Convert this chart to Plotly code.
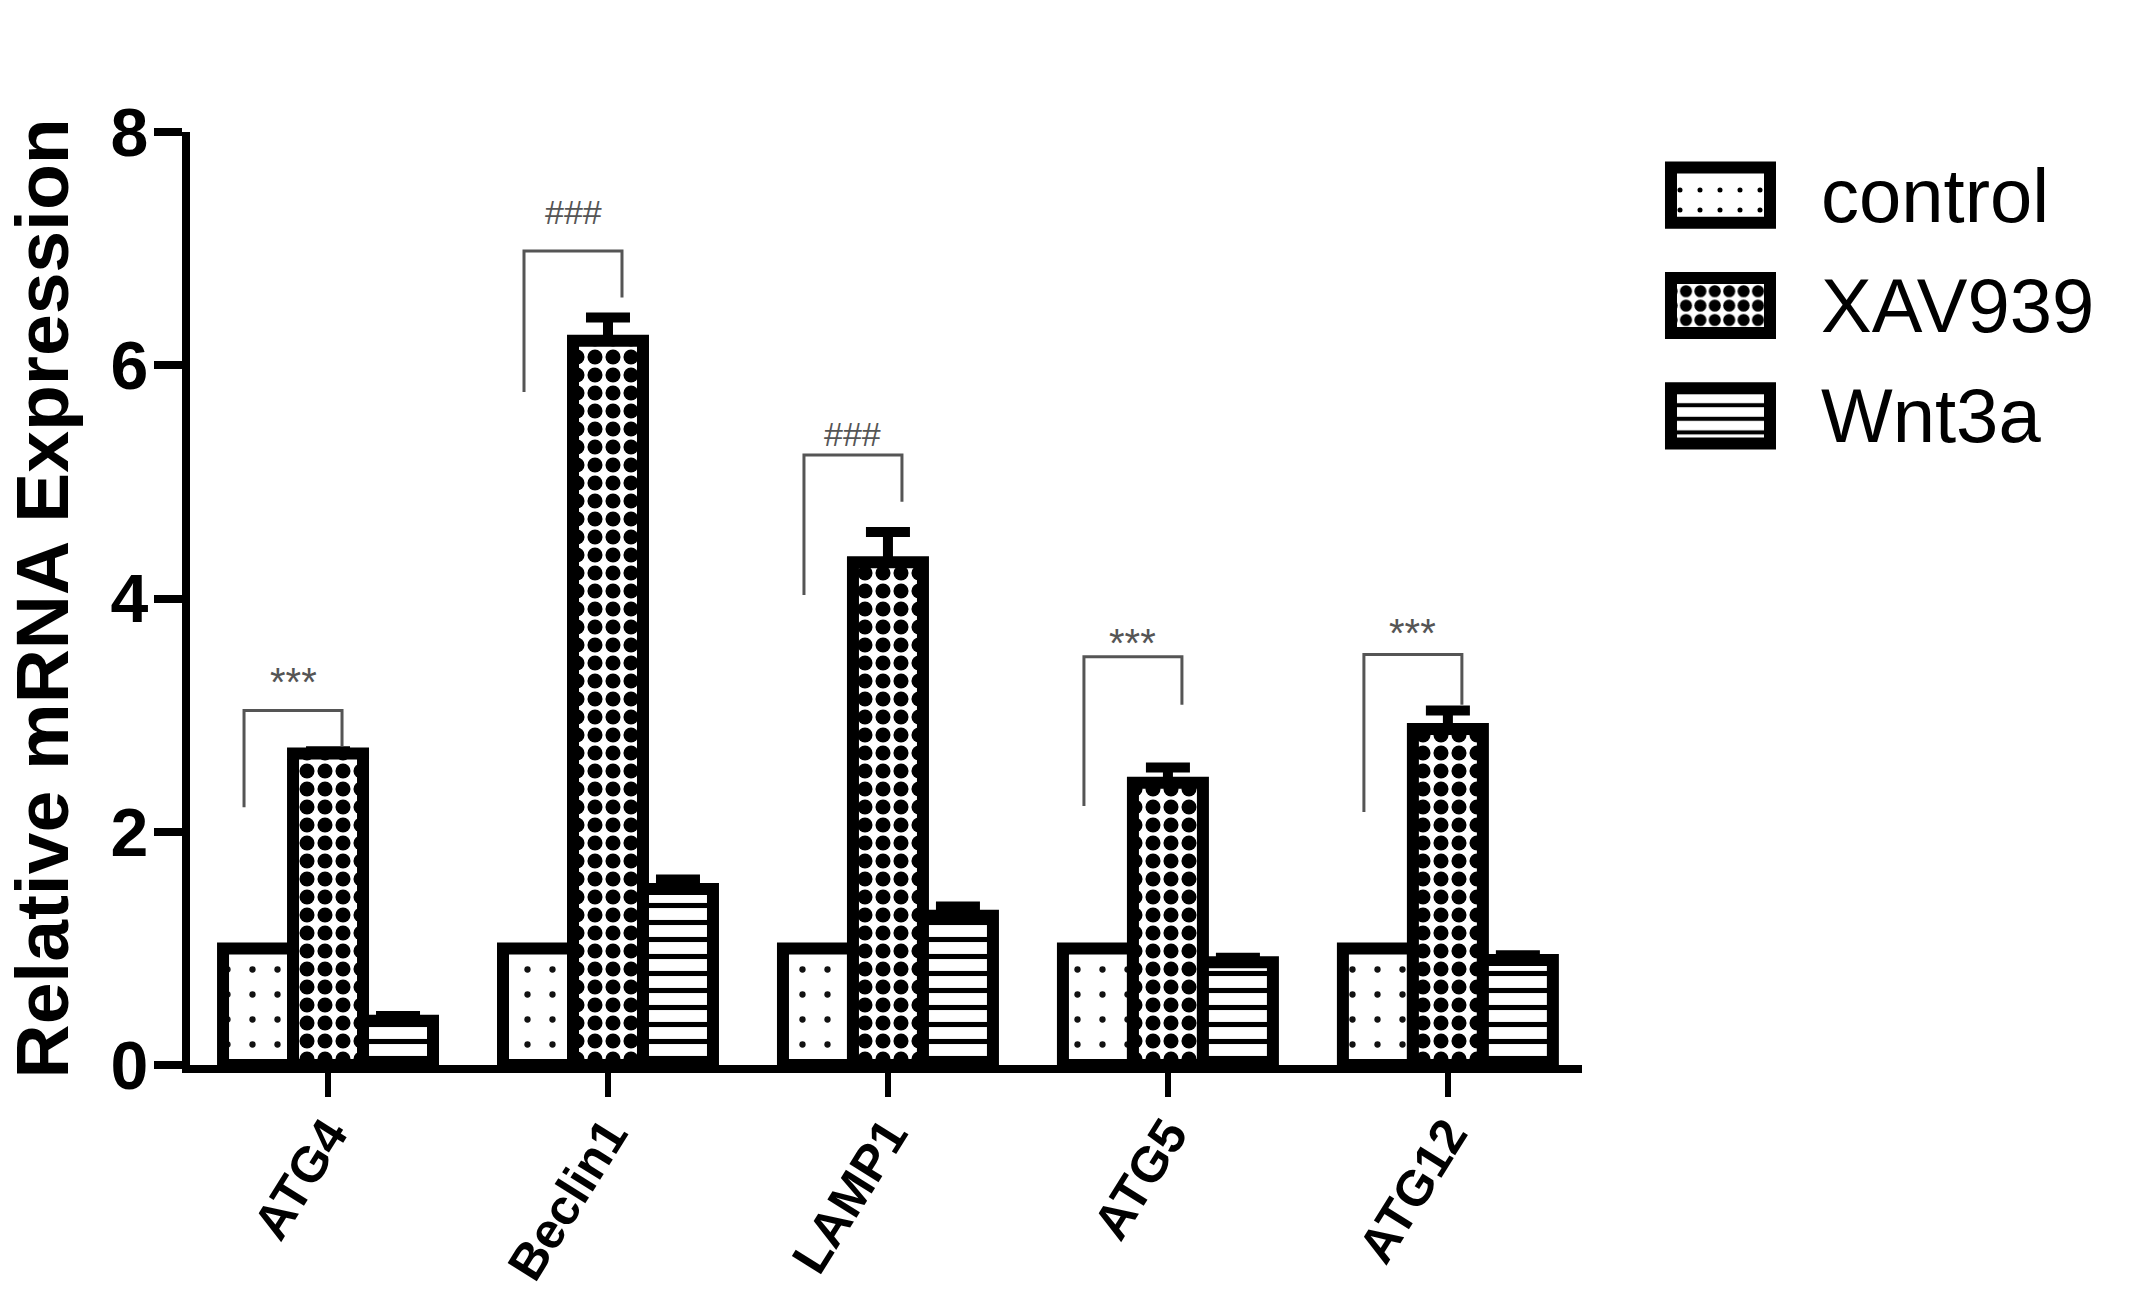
import plotly.graph_objects as go

# ---------------- data ----------------
genes = ["ATG4", "Beclin1", "LAMP1", "ATG5", "ATG12"]
groups = ["control", "XAV939", "Wnt3a"]

control_vals = [1.0, 1.0, 1.0, 1.0, 1.0]
xav_vals = [2.67, 6.21, 4.31, 2.42, 2.88]
xav_err = [0.02, 0.20, 0.26, 0.13, 0.16]
wnt_vals = [0.38, 1.51, 1.28, 0.88, 0.90]
wnt_err = [0.04, 0.08, 0.08, 0.04, 0.04]

sig_labels = ["***", "###", "###", "***", "***"]
sig_top = [3.04, 6.98, 5.23, 3.50, 3.52]
sig_left_end = [2.21, 5.77, 4.03, 2.22, 2.17]
sig_right_end = [2.73, 6.58, 4.83, 3.09, 3.09]
sig_text_y = [3.28, 7.31, 5.41, 3.62, 3.70]

y_ticks = [0, 2, 4, 6, 8]

# ---------------- style ----------------
W, H = 2135, 1291
FONT = "Liberation Sans, Arial, sans-serif"
OUTLINE = 12
BARGAP = 0.25
bar_w = (1 - BARGAP) / 3

patterns = {
    "control": dict(shape=".", size=25, solidity=0.05, fgcolor="#111111", bgcolor="white", fgopacity=1),
    "XAV939": dict(shape=".", size=18, solidity=0.55, fgcolor="black", bgcolor="white", fgopacity=1),
    "Wnt3a": dict(shape="-", size=17, solidity=0.3, fgcolor="black", bgcolor="white", fgopacity=1),
}

x_pos = list(range(len(genes)))
series = [
    ("control", control_vals, None),
    ("XAV939", xav_vals, xav_err),
    ("Wnt3a", wnt_vals, wnt_err),
]

fig = go.Figure()
for name, vals, err in series:
    kw = {}
    if err is not None:
        kw["error_y"] = dict(type="data", array=err, arrayminus=[0] * len(err),
                             symmetric=False, color="black", thickness=10, width=22)
    fig.add_trace(go.Bar(
        x=x_pos, y=vals, name=name, showlegend=False,
        marker=dict(color="white", line=dict(color="black", width=OUTLINE),
                    pattern=patterns[name]),
        **kw,
    ))

# legend swatches drawn as bars on a small secondary axis
fig.add_trace(go.Bar(
    x=[1] * len(groups), y=list(range(len(groups))), orientation="h", width=0.5,
    xaxis="x2", yaxis="y2", showlegend=False, hoverinfo="skip",
    marker=dict(
        color="white", line=dict(color="black", width=OUTLINE),
        pattern=dict(
            shape=[patterns[g]["shape"] for g in groups],
            size=[patterns[g]["size"] * 0.8 for g in groups],
            solidity=[patterns[g]["solidity"] for g in groups],
            fgcolor="black", bgcolor="white", fgopacity=1,
        ),
    ),
))

# significance brackets
for i, lab in enumerate(sig_labels):
    left = x_pos[i] - bar_w - 0.05
    right = x_pos[i] + 0.05
    fig.add_shape(type="path", xref="x", yref="y",
                  path=f"M {left},{sig_left_end[i]} L {left},{sig_top[i]} "
                       f"L {right},{sig_top[i]} L {right},{sig_right_end[i]}",
                  line=dict(color="#555555", width=3))
    fig.add_annotation(x=(left + right) / 2, y=sig_text_y[i], xref="x", yref="y",
                       text=lab, showarrow=False,
                       font=dict(family=FONT, size=40 if lab == "***" else 34, color="#555555"))

px2fx = lambda p: p / W
px2fy = lambda p: (H - p) / H

fig.update_layout(
    width=W, height=H,
    margin=dict(l=0, r=0, t=0, b=0, autoexpand=False),
    paper_bgcolor="white", plot_bgcolor="white",
    barmode="group", bargap=BARGAP, bargroupgap=0,
    font=dict(family=FONT, color="black"),
    xaxis=dict(
        domain=[px2fx(190), px2fx(1582)],
        range=[-0.493, 4.479], automargin=False,
        tickvals=x_pos, ticktext=genes,
        tickangle=-58, ticklabelstandoff=-12,
        tickfont=dict(family=FONT, size=50, weight="bold", color="black"),
        showline=True, linecolor="black", linewidth=8,
        ticks="outside", ticklen=24, tickwidth=6, tickcolor="black",
        showgrid=False, zeroline=False, anchor="y",
    ),
    yaxis=dict(
        domain=[px2fy(1065), px2fy(132)],
        range=[0, 8], automargin=False,
        tickvals=y_ticks, ticklabelstandoff=-8,
        tickfont=dict(family=FONT, size=68, weight="bold", color="black"),
        showline=True, linecolor="black", linewidth=8,
        ticks="outside", ticklen=28, tickwidth=8, tickcolor="black",
        showgrid=False, zeroline=False, anchor="x",
        title=dict(text="Relative mRNA Expression", standoff=20,
                   font=dict(family=FONT, size=75, weight="bold", color="black")),
    ),
    xaxis2=dict(
        domain=[px2fx(1650), px2fx(1790)], automargin=False,
        range=[-0.212, 1.202], visible=False, anchor="y2",
    ),
    yaxis2=dict(
        domain=[px2fy(471), px2fy(140)], automargin=False,
        range=[2.5, -0.5], anchor="x2", side="right",
        tickvals=list(range(len(groups))), ticktext=groups,
        ticks="", showline=False, showgrid=False, zeroline=False,
        ticklabelstandoff=30,
        tickfont=dict(family=FONT, size=76, color="black"),
    ),
)

fig.write_html("out.html",
               config={"displayModeBar": False},
               post_script="document.body.style.margin='0px';document.body.style.overflow='hidden';")
